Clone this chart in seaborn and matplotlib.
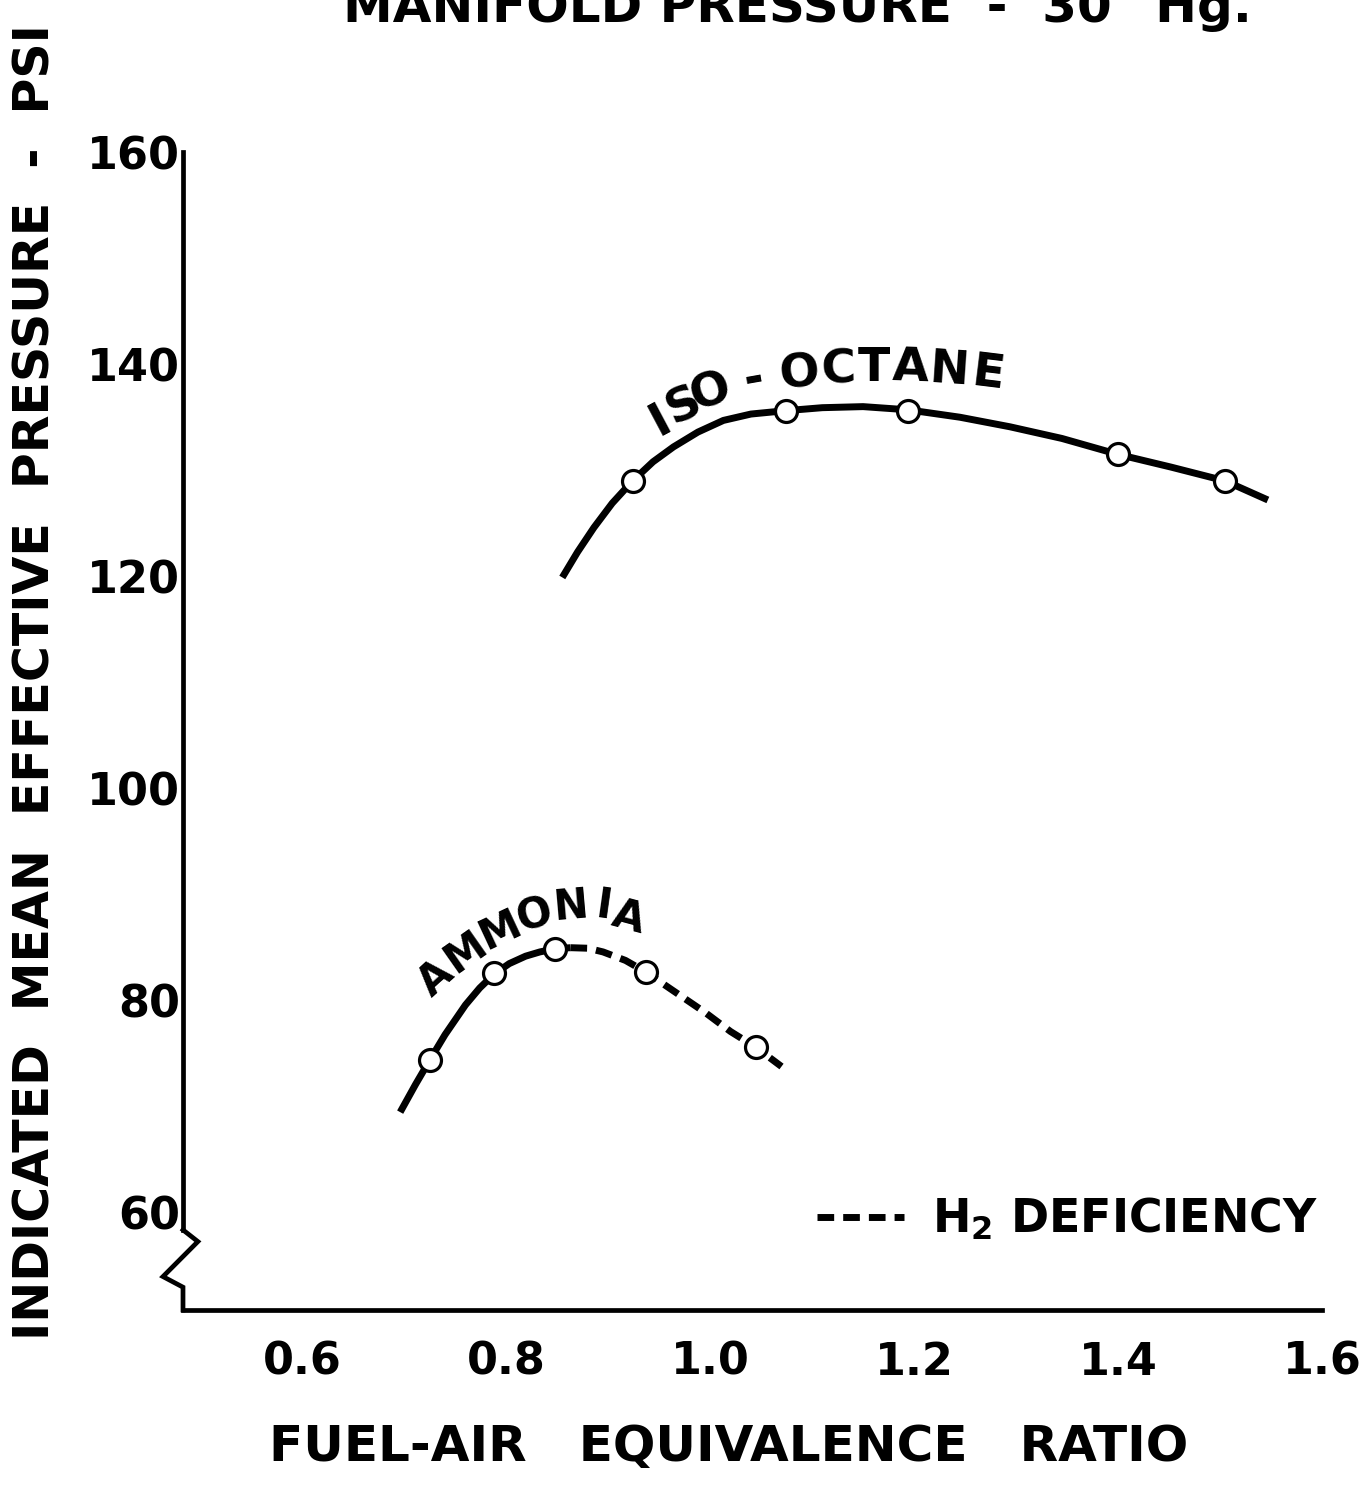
import matplotlib
matplotlib.use("Agg")
import matplotlib.pyplot as plt
import matplotlib.transforms as mtransforms
import seaborn as sns

# ---------------- data ----------------
iso_marker_x = [0.924, 1.074, 1.194, 1.400, 1.505]
iso_marker_y = [129.0, 135.6, 135.6, 131.5, 129.0]
iso_curve_x = [0.855, 0.870, 0.886, 0.904, 0.924, 0.944, 0.964, 0.988, 1.013, 1.040,
               1.072, 1.110, 1.150, 1.194, 1.245, 1.294, 1.345, 1.400, 1.452, 1.505, 1.547]
iso_curve_y = [119.9, 122.3, 124.6, 126.9, 129.0, 130.8, 132.2, 133.6, 134.7, 135.3,
               135.6, 135.9, 136.0, 135.7, 135.0, 134.1, 133.0, 131.5, 130.3, 129.0, 127.2]

amm_marker_x = [0.725, 0.788, 0.848, 0.937, 1.045]
amm_marker_y = [74.4, 82.6, 84.9, 82.7, 75.6]
amm_solid_x = [0.696, 0.711, 0.725, 0.740, 0.760, 0.774, 0.788, 0.803, 0.819, 0.833, 0.848, 0.863]
amm_solid_y = [69.5, 72.1, 74.4, 76.8, 79.6, 81.2, 82.5, 83.5, 84.2, 84.6, 84.9, 85.0]
amm_dash_x = [0.863, 0.880, 0.895, 0.917, 0.937, 0.966, 0.995, 1.020, 1.045, 1.070]
amm_dash_y = [85.0, 84.95, 84.6, 83.8, 82.7, 80.8, 78.9, 77.1, 75.6, 73.8]

x_ticks = [0.6, 0.8, 1.0, 1.2, 1.4, 1.6]
x_tick_labels = ["0.6", "0.8", "1.0", "1.2", "1.4", "1.6"]
y_ticks = [60, 80, 100, 120, 140, 160]
y_tick_labels = ["60", "80", "100", "120", "140", "160"]

title_text = 'MANIFOLD PRESSURE  -  30" Hg.'
x_label = "FUEL-AIR   EQUIVALENCE   RATIO"
y_label = "INDICATED  MEAN  EFFECTIVE  PRESSURE  -  PSI"
legend_label = r"H$_\mathbf{2}$ DEFICIENCY"

# ---------------- style ----------------
sns.set_style("white")
INK = "black"
plt.rcParams.update({
    "font.family": ["DejaVu Sans"],
    "font.weight": "bold",
    "mathtext.default": "bf",
    "text.color": INK,
    "axes.labelcolor": INK,
    "xtick.color": INK,
    "ytick.color": INK,
})

fig = plt.figure(figsize=(13.72, 14.90), dpi=100)
ax = fig.add_axes([183 / 1372, 1 - 1310 / 1490, (1327 - 183) / 1372, (1310 - 152) / 1490])

YMIN = 50.85
ax.set_xlim(0.483, 1.605)
ax.set_ylim(YMIN, 160)

LW = 5.0
# curves
sns.lineplot(x=iso_curve_x, y=iso_curve_y, sort=False, estimator=None,
             color=INK, linewidth=LW, ax=ax, solid_capstyle="butt",
             solid_joinstyle="round")
sns.lineplot(x=amm_solid_x, y=amm_solid_y, sort=False, estimator=None,
             color=INK, linewidth=LW, ax=ax, solid_capstyle="butt",
             solid_joinstyle="round")
sns.lineplot(x=amm_dash_x, y=amm_dash_y, sort=False, estimator=None,
             color=INK, linewidth=LW, ax=ax, linestyle=(0, (2.4, 1.3)),
             dash_capstyle="butt")
dash_line = ax.lines[-1]

# markers
for mx, my in [(iso_marker_x, iso_marker_y), (amm_marker_x, amm_marker_y)]:
    sns.scatterplot(x=mx, y=my, marker="o", s=250, facecolor="white",
                    edgecolor=INK, linewidth=2.3, zorder=5, ax=ax)

# axes / spines
SP = 3.4
for s in ["top", "right"]:
    ax.spines[s].set_visible(False)
for s in ["bottom", "left"]:
    ax.spines[s].set_linewidth(SP)
    ax.spines[s].set_color(INK)
ax.spines["bottom"].set_bounds(0.483, 1.6)
ax.spines["left"].set_bounds(58.4, 160)

# axis break zigzag at the bottom of the y axis
trans = mtransforms.blended_transform_factory(ax.transAxes, ax.transData)
ax.plot([0, 0.013, -0.0175, 0, 0], [58.4, 57.3, 54.0, 53.0, YMIN],
        color=INK, lw=SP, transform=trans, clip_on=False,
        solid_joinstyle="miter", solid_capstyle="projecting")

ax.set_xticks(x_ticks)
ax.set_xticklabels(x_tick_labels)
ax.set_yticks(y_ticks)
ax.set_yticklabels(y_tick_labels)
ax.tick_params(axis="x", direction="in", length=11, width=SP, color=INK,
               pad=22, labelsize=32)
ax.tick_params(axis="y", direction="in", length=9, width=SP, color=INK,
               pad=2, labelsize=32)
for lab in ax.get_xticklabels() + ax.get_yticklabels():
    lab.set_fontweight("bold")
ax.set_xlabel("")
ax.set_ylabel("")

# curve labels (letters set along the arc)
iso_chars = [("I", 0.951, 134.7, 28), ("S", 0.9745, 136.0, 24), ("O", 1.001, 137.3, 18),
             ("-", 1.043, 138.5, 10), ("O", 1.088, 139.0, 5), ("C", 1.126, 139.4, 2),
             ("T", 1.161, 139.6, 0), ("A", 1.197, 139.6, -2), ("N", 1.235, 139.4, -4),
             ("E", 1.273, 139.0, -7)]
for ch, cx, cy, rot in iso_chars:
    ax.text(cx, cy, ch, fontsize=34, fontweight="bold", rotation=rot,
            ha="center", va="center", rotation_mode="anchor", color=INK)

amm_chars = [("A", 0.7304, 82.15, 42), ("M", 0.7598, 84.6, 35), ("M", 0.7941, 86.67, 25),
             ("O", 0.8284, 88.09, 15), ("N", 0.8627, 88.84, 5), ("I", 0.8951, 88.93, -8),
             ("A", 0.9196, 87.8, -15)]
for ch, cx, cy, rot in amm_chars:
    ax.text(cx, cy, ch, fontsize=30, fontweight="bold", rotation=rot,
            ha="center", va="center", rotation_mode="anchor", color=INK)

# legend for the dashed portion
leg = ax.legend(handles=[dash_line], labels=[legend_label], loc="center right",
                bbox_to_anchor=(0.992, 0.078), frameon=False,
                prop={"size": 33, "weight": "bold"},
                handlelength=1.9, handletextpad=0.6, borderpad=0, borderaxespad=0)

# axis titles and header
fig.text(0.531, 1 - 1447 / 1490, x_label, ha="center", va="center",
         fontsize=36, fontweight="bold", color=INK)
fig.text(0.026, 1 - 1340 / 1490, y_label, ha="center", va="bottom",
         rotation=90, fontsize=35.3, fontweight="bold", color=INK)
fig.text(0.581, 1 - 22 / 1490, title_text, ha="center", va="baseline",
         fontsize=36, fontweight="bold", color=INK)

fig.savefig("out.png", dpi=100, facecolor="white")
